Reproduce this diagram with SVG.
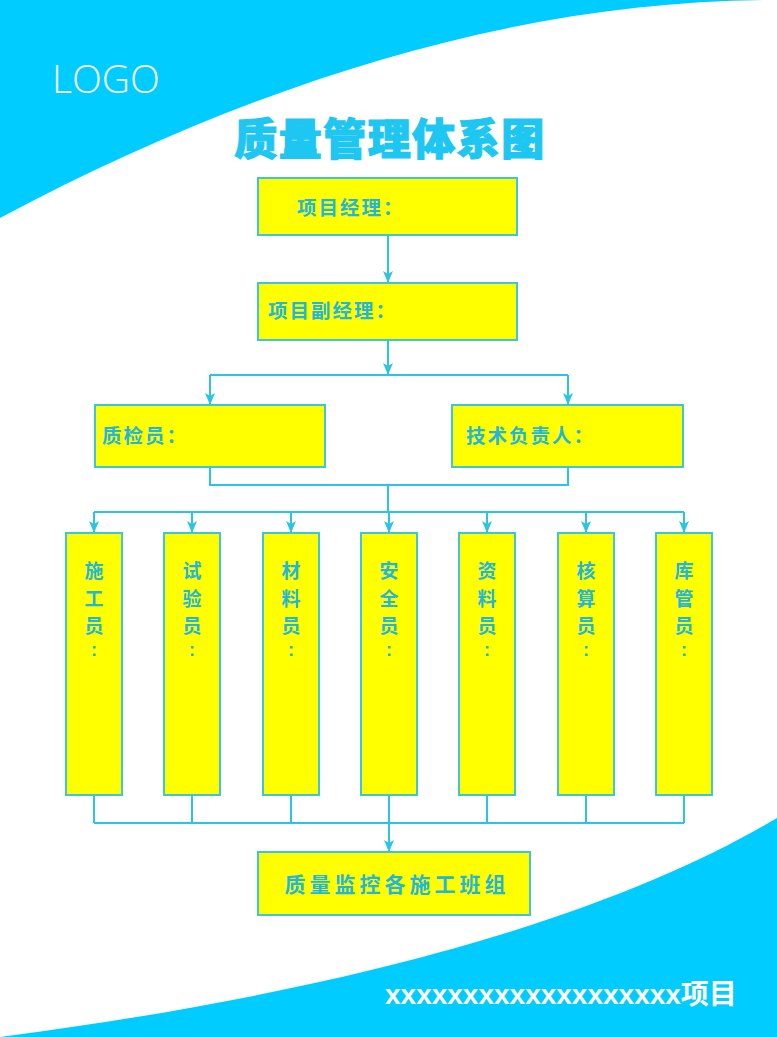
<svg xmlns="http://www.w3.org/2000/svg" width="777" height="1037" viewBox="0 0 777 1037">
<style>
.bg{fill:#00ccff}
.box{fill:#ffff00;stroke:#3cc6dc;stroke-width:2}
.lbl{font-family:"Noto Sans CJK SC","Liberation Sans",sans-serif;font-weight:700;fill:#22b6d8}
.h{font-size:19.5px;letter-spacing:2px}
.v{font-size:19px;text-anchor:middle}
.c{font-family:"Liberation Sans",sans-serif;font-weight:700;font-size:18px;fill:#22b6d8;text-anchor:middle}
.ln{fill:none;stroke:#2cc4e4;stroke-width:2}
.ar{marker-end:url(#arr)}
</style>
<defs>
<marker id="arr" viewBox="0 0 12 10" refX="12" refY="5" markerWidth="12" markerHeight="10" markerUnits="userSpaceOnUse" orient="auto">
<path d="M0,0 L12,5 L0,10 L3,5 Z" fill="#2cc4e4"/>
</marker>
</defs>
<rect x="0" y="0" width="777" height="1037" fill="#ffffff"/>
<g id="background">
<path class="bg" d="M0,0 L777,0 C520,0 260,80 0,218 Z"/>
<path class="bg" d="M777,818 C640,900 400,985 0,1037 L777,1037 Z"/>
<text x="52" y="93" font-family="Open Sans, Liberation Sans, sans-serif" font-size="39" font-weight="300" fill="#ffffff">LOGO</text>
<text x="390" y="155" text-anchor="middle" font-family="Noto Sans CJK SC, sans-serif" font-size="43" font-weight="900" fill="#1ec6f2" stroke="#1ec6f2" stroke-width="1.2" letter-spacing="1.5">质量管理体系图</text>
<text x="385" y="1004" font-family="Liberation Sans, Noto Sans CJK SC, sans-serif" font-size="28" font-weight="700" fill="#ffffff">xxxxxxxxxxxxxxxxxxx项目</text>
</g>
<g id="connectors">
<path class="ln ar" d="M388,235 V283"/>
<path class="ln ar" d="M388,340 V375"/>
<path class="ln" d="M210,375 H568"/>
<path class="ln ar" d="M210,375 V405"/>
<path class="ln ar" d="M568,375 V405"/>
<path class="ln" d="M210,467 V485 H568 V467"/>
<path class="ln" d="M388,485 V512"/>
<path class="ln" d="M94,512 H684"/>
<path class="ln ar" d="M94,512 V533"/>
<path class="ln ar" d="M192,512 V533"/>
<path class="ln ar" d="M291,512 V533"/>
<path class="ln ar" d="M389,512 V533"/>
<path class="ln ar" d="M487,512 V533"/>
<path class="ln ar" d="M586,512 V533"/>
<path class="ln ar" d="M684,512 V533"/>
<path class="ln" d="M94,795 V823 M192,795 V823 M291,795 V823 M389,795 V823 M487,795 V823 M586,795 V823 M684,795 V823 M94,823 H684"/>
<path class="ln ar" d="M389,823 V852"/>
</g>
<g id="n-manager"><rect class="box" x="258" y="178" width="259" height="57"/><text class="lbl h" x="297" y="215">项目经理：</text></g>
<g id="n-deputy"><rect class="box" x="258" y="283" width="259" height="57"/><text class="lbl h" x="268" y="318">项目副经理：</text></g>
<g id="n-inspector"><rect class="box" x="95" y="405" width="230" height="62"/><text class="lbl h" x="102" y="443">质检员：</text></g>
<g id="n-tech"><rect class="box" x="452" y="405" width="231" height="62"/><text class="lbl h" x="466" y="443">技术负责人：</text></g>
<g id="n-c1"><rect class="box" x="66" y="533" width="56" height="262"/><text class="lbl v"><tspan x="94" y="578">施</tspan><tspan x="94" y="605.5">工</tspan><tspan x="94" y="633">员</tspan></text><text class="c" x="94" y="656">:</text></g>
<g id="n-c2"><rect class="box" x="164" y="533" width="56" height="262"/><text class="lbl v"><tspan x="192" y="578">试</tspan><tspan x="192" y="605.5">验</tspan><tspan x="192" y="633">员</tspan></text><text class="c" x="192" y="656">:</text></g>
<g id="n-c3"><rect class="box" x="263" y="533" width="56" height="262"/><text class="lbl v"><tspan x="291" y="578">材</tspan><tspan x="291" y="605.5">料</tspan><tspan x="291" y="633">员</tspan></text><text class="c" x="291" y="656">:</text></g>
<g id="n-c4"><rect class="box" x="361" y="533" width="56" height="262"/><text class="lbl v"><tspan x="389" y="578">安</tspan><tspan x="389" y="605.5">全</tspan><tspan x="389" y="633">员</tspan></text><text class="c" x="389" y="656">:</text></g>
<g id="n-c5"><rect class="box" x="459" y="533" width="56" height="262"/><text class="lbl v"><tspan x="487" y="578">资</tspan><tspan x="487" y="605.5">料</tspan><tspan x="487" y="633">员</tspan></text><text class="c" x="487" y="656">:</text></g>
<g id="n-c6"><rect class="box" x="558" y="533" width="56" height="262"/><text class="lbl v"><tspan x="586" y="578">核</tspan><tspan x="586" y="605.5">算</tspan><tspan x="586" y="633">员</tspan></text><text class="c" x="586" y="656">:</text></g>
<g id="n-c7"><rect class="box" x="656" y="533" width="56" height="262"/><text class="lbl v"><tspan x="684" y="578">库</tspan><tspan x="684" y="605.5">管</tspan><tspan x="684" y="633">员</tspan></text><text class="c" x="684" y="656">:</text></g>
<g id="n-teams"><rect class="box" x="258" y="852" width="272" height="63"/><text class="lbl" x="397" y="892" font-size="21" text-anchor="middle" letter-spacing="4">质量监控各施工班组</text></g>
</svg>
